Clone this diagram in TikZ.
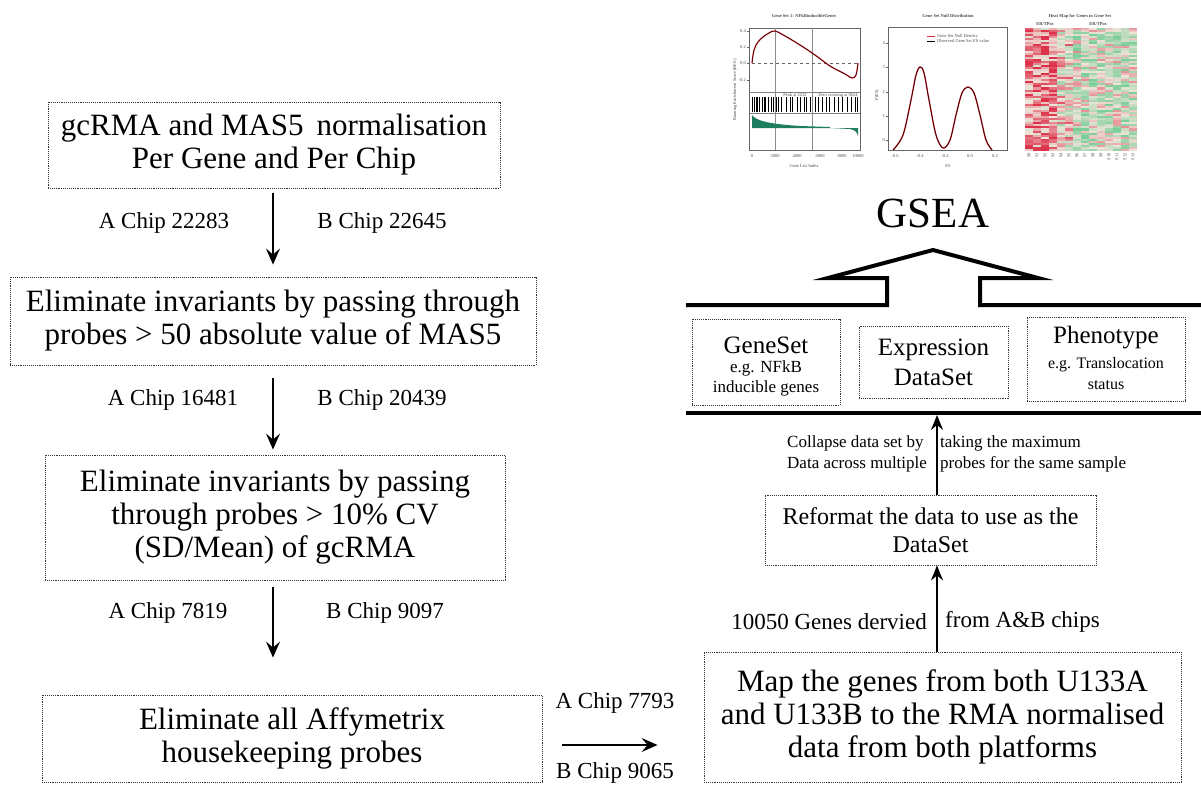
\documentclass[tikz,border=0pt]{standalone}
\usepackage{fontspec}
\setmainfont{Liberation Serif}
\usetikzlibrary{arrows.meta}
\definecolor{hmred}{RGB}{222,50,75}
\definecolor{hmgreen}{RGB}{120,205,150}
\definecolor{hmmid}{RGB}{238,228,218}
\definecolor{esgreen}{RGB}{30,125,95}
\definecolor{plotred}{RGB}{220,40,50}
\begin{document}
\begin{tikzpicture}[x=1pt,y=-1pt,
  box/.style={draw=black!80, densely dotted, line width=0.9pt, inner sep=0pt, align=center},
  main/.style={font=\fontsize{31}{33}\selectfont},
  lbl/.style={font=\fontsize{23}{25}\selectfont, inner sep=0pt},
  small/.style={font=\fontsize{17}{21}\selectfont, inner sep=0pt, align=left},
  arr/.style={-{Stealth[length=16pt,width=14pt,inset=6pt]}, line width=1.3pt},
  tiny/.style={font=\fontsize{4.5}{5}\selectfont, text=black!70, inner sep=0pt},
  frame/.style={draw=black!60, line width=0.5pt}
]
\useasboundingbox (0,0) rectangle (1201,784);

% ---------------- left column ----------------
\node[box, main, minimum width=452pt, minimum height=86pt] (b1) at (274,145)
  {gcRMA and MAS5 \,normalisation\\Per Gene and Per Chip};
\node[box, main, minimum width=526pt, minimum height=88pt] (b2) at (273,321)
  {Eliminate invariants by passing through\\probes > 50 absolute value of MAS5};
\node[box, main, minimum width=460pt, minimum height=125pt] (b3) at (275,517.5)
  {Eliminate invariants by passing\\through probes > 10\% CV\\(SD/Mean) of gcRMA};
\node[box, main, minimum width=500pt, minimum height=87pt] (b4) at (292,738.5)
  {Eliminate all Affymetrix\\housekeeping probes};

\draw[arr, shorten <=5pt, shorten >=12pt] (273,188) coordinate (a1s) -- (a1s |- b2.north);
\draw[arr, shorten <=13pt, shorten >=5pt] (b2.south) -- (b2.south |- b3.north);
\draw[arr, shorten <=7pt, shorten >=37pt] ([xshift=-2pt]b3.south) -- ([xshift=-2pt]b3.south |- b4.north);

\node[lbl] (l1a) at (164,223) {A Chip 22283};
\node[lbl] (l1b) at (382,223) {B Chip 22645};
\node[lbl] (l2a) at (173,400) {A Chip 16481};
\node[lbl] (l2b) at (382,400) {B Chip 20439};
\node[lbl] (l3a) at (168,613) {A Chip 7819};
\node[lbl] (l3b) at (385,613) {B Chip 9097};

% ---------------- right column ----------------
\node[box, main, minimum width=477pt, minimum height=130pt] (map) at (942.5,717)
  {Map the genes from both U133A\\and U133B to the RMA normalised\\data from both platforms};
\node[box, main, minimum width=331pt, minimum height=70pt, font=\fontsize{24}{28}\selectfont] (ref) at (930.5,530)
  {Reformat the data to use as the\\DataSet};

\draw[arr, shorten <=20pt, shorten >=46pt] ([yshift=-6.5pt]b4.east) -- ([yshift=-6.5pt]b4.east -| map.west);
\node[lbl] (l4a) at (615,703) {A Chip 7793};
\node[lbl] (l4b) at (615,773) {B Chip 9065};

\draw[arr, -{Stealth[length=15pt,width=12pt,inset=5pt]}] ([xshift=-5.5pt]map.north) -- ([xshift=-5.5pt]map.north |- ref.south);
\node[lbl, anchor=east] (g1) at (927,622) {10050 Genes dervied};
\node[lbl, anchor=west] (g2) at (945,622) {from A\&B chips};

% callout frame
\draw[line width=4pt, miter limit=20] (686,305) -- (887,305) -- (887,278) -- (828,278) -- (933,250)
   -- (1038,278) -- (980,278) -- (980,305) -- (1210,305);
\draw[line width=4pt] (686,413) -- (1210,413);
\coordinate (cb) at (937,415);
\draw[arr, -{Stealth[length=15pt,width=12pt,inset=5pt]}] ([xshift=6.5pt]ref.north) -- (cb);

\node[small, anchor=north west] (c1) at (787,435) {Collapse data set by\\Data across multiple};
\node[small, anchor=north west] (c2) at (940,435) {taking the maximum\\probes for the same sample};

\node[box, minimum width=148pt, minimum height=86pt] (gs) at (766,362) {};
\node[inner sep=0pt, font=\fontsize{25}{28}\selectfont] (gst) at (766,345) {GeneSet};
\node[inner sep=0pt, align=center, font=\fontsize{17}{20}\selectfont] (gss) at (766,378) {e.g. NFkB\\inducible genes};

\node[box, minimum width=149pt, minimum height=72pt, font=\fontsize{25}{30}\selectfont] (ex) at (933.5,362) {Expression\\DataSet};

\node[box, minimum width=158pt, minimum height=84pt] (ph) at (1106,359) {};
\node[inner sep=0pt, font=\fontsize{25}{28}\selectfont] (pht) at (1106,338) {Phenotype};
\node[inner sep=0pt, align=center, font=\fontsize{16}{21}\selectfont] (phs) at (1106,374) {e.g. Translocation\\status};

\node[inner sep=0pt, font=\fontsize{43}{45}\selectfont] (gsea) at (933,213) {GSEA};

% ---------------- plots ----------------
% panel 1: enrichment plot
\node[tiny] (t1) at (804,16) {\bfseries Gene Set 1: NFkBinducibleGenes};
\draw[frame] (749,28) rectangle (860,150);
\draw[black!50, line width=0.4pt] (749,92) -- (860,92) (749,113) -- (860,113);
\draw[black!45, line width=0.4pt] (775,28) -- (775,150) (812,28) -- (812,150);
\draw[black!60, dashed, line width=0.5pt] (752,63) -- (858,63);
\draw[plotred, line width=1.3pt] plot[smooth, tension=0.6] coordinates
  {(752,63) (754,50) (758,42) (763,37) (769,33) (775,31) (785,36) (800,45) (815,55) (830,66) (845,74) (852,78) (856,75) (858,63)};
\draw[black, line width=0.4pt] plot[smooth, tension=0.6] coordinates
  {(752,63) (754,50) (758,42) (763,37) (769,33) (775,31) (785,36) (800,45) (815,55) (830,66) (845,74) (852,78) (856,75) (858,63)};
\foreach \bx in {752,754,756,757,759,762,764,765,768,771,773,776,778,781,786,790,792,797,800,804,806,810,815,818,822,826,829,834,838,842,847,851,855,857}
  \draw[line width=0.9pt] (\bx,97) -- (\bx,112);
\fill[esgreen] (752,115) .. controls (756,121) and (770,124) .. (800,126) -- (830,127) -- (830,128) -- (752,128) -- cycle;
\fill[esgreen] (830,128) -- (850,129) .. controls (855,130) and (857,132) .. (858,136) -- (858,128) -- cycle;
\foreach \ty/\tl in {31/0.4,47/0.2,63/0.0,80/-0.2}
  {\node[tiny, anchor=east] at (746,\ty) {\tl}; \draw[black!60, line width=0.3pt] (747,\ty) -- (749,\ty);}
\node[tiny, rotate=90] (ya1) at (735,90) {Running Enrichment Score (RES)};
\node[tiny] at (795,95) {Peak at 2232};
\node[tiny] at (838,95) {Zero crossing at 9624};
\foreach \tx/\tl in {752/0,775/2000,797/4000,820/6000,842/8000,858/10000}
  \node[tiny] at (\tx,156) {\tl};
\node[tiny] (xa1) at (804,166) {Gene List Index};

% panel 2: null distribution
\node[tiny] (t2) at (948,16) {\bfseries Gene Set Null Distribution};
\draw[frame] (888,27) rectangle (1007,150);
\draw[plotred, line width=0.7pt] (927,36) -- (935,36);
\node[tiny, anchor=west] at (937,36) {Gene Set Null Density};
\draw[black, line width=0.9pt] (927,41) -- (935,41);
\node[tiny, anchor=west] at (937,41) {Observed Gene Set ES value};
\draw[plotred, line width=1.4pt] plot[smooth, tension=0.55] coordinates
  {(893,150) (903,135) (911,100) (916,75) (920,67) (924,73) (929,100) (936,135) (943,148) (950,140) (956,115) (962,93) (968,87) (974,93) (980,115) (986,140) (992,150)};
\draw[black, line width=0.5pt] plot[smooth, tension=0.55] coordinates
  {(893,150) (903,135) (911,100) (916,75) (920,67) (924,73) (929,100) (936,135) (943,148) (950,140) (956,115) (962,93) (968,87) (974,93) (980,115) (986,140) (992,150)};
\foreach \ty/\tl in {43/4,67/3,92/2,116/1,140/0}
  {\node[tiny, anchor=east] at (885,\ty) {\tl}; \draw[black!60, line width=0.3pt] (886,\ty) -- (888,\ty);}
\node[tiny, rotate=90] at (877,95) {P(ES)};
\foreach \tx/\tl in {895/-0.6,920/-0.4,945/-0.2,970/0.0,995/0.2}
  \node[tiny] at (\tx,156) {\tl};
\node[tiny] at (948,166) {ES};

% panel 3: heat map
\node[tiny] (t3) at (1080,16) {\bfseries Heat Map for Genes in Gene Set};
\node[tiny] at (1045,24) {\bfseries ER/TPos};
\node[tiny] at (1098,24) {\bfseries ER/TPos};
\pgfmathsetseed{11}
\foreach \i in {0,...,13}{
  \foreach \j in {0,...,59}{
    \pgfmathsetmacro\bb{\i<4 ? 0.28 : (\i<6 ? 0.05 : -0.12)}
    \pgfmathsetmacro\vv{rnd*0.75+0.12+\bb}
    \pgfmathtruncatemacro\pp{max(0,min(100,200*\vv-100))}
    \pgfmathtruncatemacro\qq{max(0,min(100,100-200*\vv))}
    \ifnum\pp>0 \def\cc{hmred!\pp!hmmid}\else\def\cc{hmgreen!\qq!hmmid}\fi
    \fill[\cc] (1025+\i*8,28+\j*2.05) rectangle (1033+\i*8,30.05+\j*2.05);
  }
}
\foreach \k in {0,...,13}
  \node[tiny, rotate=90, anchor=east] at (1029+\k*8,153) {S\k};
\end{tikzpicture}
\end{document}
